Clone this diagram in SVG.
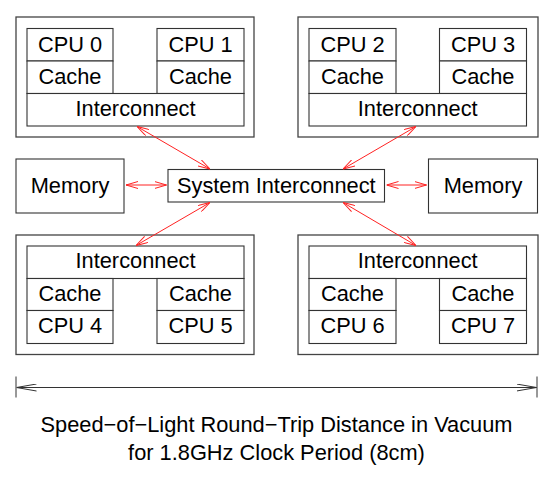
<svg xmlns="http://www.w3.org/2000/svg" width="553" height="485" viewBox="0 0 553 485">
<style>
.box{fill:#fff;stroke:#333;stroke-width:1.1}
.outer{fill:#fff;stroke:#444;stroke-width:1.3}
text{font-family:"Liberation Sans",Arial,Helvetica,sans-serif;font-size:21.8px;fill:#000;text-anchor:middle}
.red{stroke:#f22;stroke-width:1;fill:none;marker-start:url(#rh);marker-end:url(#rh)}
.dim{stroke:#333;stroke-width:1;fill:none}
</style>
<defs>
<marker id="rh" viewBox="0 0 12 8" refX="12" refY="4" markerWidth="12" markerHeight="8" markerUnits="userSpaceOnUse" orient="auto-start-reverse">
<path d="M0,0.5 L12,4 L0,7.5" fill="none" stroke="#f22" stroke-width="1"/>
</marker>
<marker id="bh" viewBox="0 0 20 8" refX="20" refY="4" markerWidth="20" markerHeight="8" markerUnits="userSpaceOnUse" orient="auto-start-reverse">
<path d="M0,0.5 L20,4 L0,7.5" fill="none" stroke="#333" stroke-width="1"/>
</marker>
</defs>
<rect width="553" height="485" fill="#fff"/>

<g id="node-tl">
<rect class="outer" x="16" y="17" width="238" height="120"/>
<rect class="box" x="27" y="28.5" width="86" height="32.5"/>
<rect class="box" x="27" y="61" width="86" height="32.5"/>
<rect class="box" x="157" y="28.5" width="87" height="32.5"/>
<rect class="box" x="157" y="61" width="87" height="32.5"/>
<rect class="box" x="27" y="93.5" width="217" height="32.5"/>
<text x="70" y="52">CPU 0</text>
<text x="70" y="84">Cache</text>
<text x="200.5" y="52">CPU 1</text>
<text x="200.5" y="84">Cache</text>
<text x="135.5" y="116">Interconnect</text>
</g>

<g id="node-tr">
<rect class="outer" x="298" y="17" width="240" height="120"/>
<rect class="box" x="309" y="28.5" width="87" height="32.5"/>
<rect class="box" x="309" y="61" width="87" height="32.5"/>
<rect class="box" x="439.5" y="28.5" width="87" height="32.5"/>
<rect class="box" x="439.5" y="61" width="87" height="32.5"/>
<rect class="box" x="309" y="93.5" width="217.5" height="32.5"/>
<text x="352.5" y="52">CPU 2</text>
<text x="352.5" y="84">Cache</text>
<text x="483" y="52">CPU 3</text>
<text x="483" y="84">Cache</text>
<text x="417.7" y="116">Interconnect</text>
</g>

<g id="node-bl">
<rect class="outer" x="16" y="235" width="238" height="119.5"/>
<rect class="box" x="27" y="246" width="217" height="32.5"/>
<rect class="box" x="27" y="278.5" width="86" height="32"/>
<rect class="box" x="27" y="310.5" width="86" height="33"/>
<rect class="box" x="157" y="278.5" width="87" height="32"/>
<rect class="box" x="157" y="310.5" width="87" height="33"/>
<text x="135.5" y="268">Interconnect</text>
<text x="70" y="300.5">Cache</text>
<text x="70" y="333">CPU 4</text>
<text x="200.5" y="300.5">Cache</text>
<text x="200.5" y="333">CPU 5</text>
</g>

<g id="node-br">
<rect class="outer" x="298" y="235" width="240" height="119.5"/>
<rect class="box" x="309" y="246" width="217.5" height="32.5"/>
<rect class="box" x="309" y="278.5" width="87" height="32"/>
<rect class="box" x="309" y="310.5" width="87" height="33"/>
<rect class="box" x="439.5" y="278.5" width="87" height="32"/>
<rect class="box" x="439.5" y="310.5" width="87" height="33"/>
<text x="417.7" y="268">Interconnect</text>
<text x="352.5" y="300.5">Cache</text>
<text x="352.5" y="333">CPU 6</text>
<text x="483" y="300.5">Cache</text>
<text x="483" y="333">CPU 7</text>
</g>

<g id="node-mem-left">
<rect class="box" x="16" y="159" width="108" height="54"/>
<text x="70" y="193">Memory</text>
</g>

<g id="node-sysic">
<rect class="box" x="168" y="169.5" width="216.5" height="32.5"/>
<text x="276.3" y="193">System Interconnect</text>
</g>

<g id="node-mem-right">
<rect class="box" x="428.5" y="159" width="109" height="54"/>
<text x="483" y="193">Memory</text>
</g>

<g id="connectors">
<line class="red" x1="137" y1="126.5" x2="210" y2="169"/>
<line class="red" x1="416" y1="126.5" x2="343" y2="169"/>
<line class="red" x1="210" y1="202.5" x2="136" y2="245.5"/>
<line class="red" x1="343" y1="202.5" x2="416" y2="245.5"/>
<line class="red" x1="126" y1="185" x2="166.5" y2="185"/>
<line class="red" x1="386.5" y1="185" x2="426.5" y2="185"/>
</g>

<g id="dimension">
<line class="dim" x1="16" y1="376.5" x2="16" y2="397.5"/>
<line class="dim" x1="537" y1="376.5" x2="537" y2="397.5"/>
<line class="dim" x1="16.5" y1="387.5" x2="536.5" y2="387.5" marker-start="url(#bh)" marker-end="url(#bh)"/>
<text x="276.5" y="432">Speed−of−Light Round−Trip Distance in Vacuum</text>
<text x="276.5" y="460">for 1.8GHz Clock Period (8cm)</text>
</g>
</svg>
